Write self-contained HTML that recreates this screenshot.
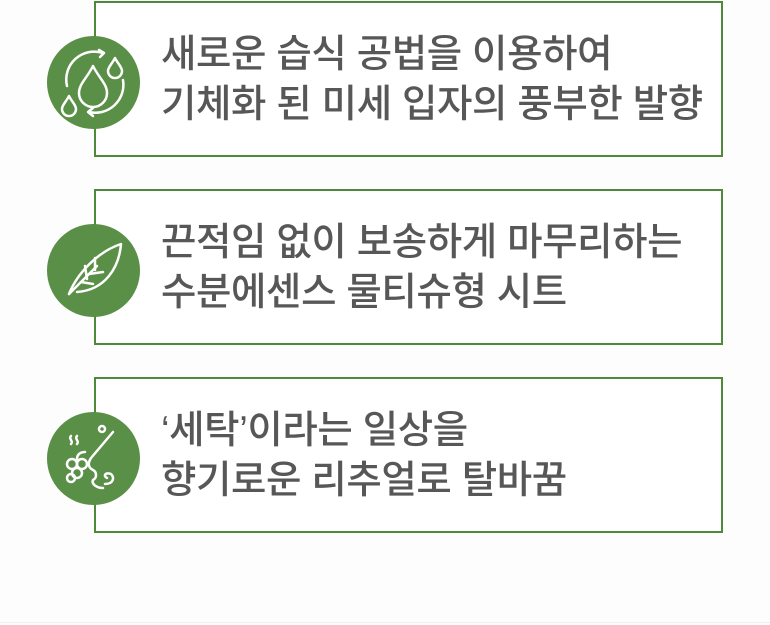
<!DOCTYPE html>
<html><head><meta charset="utf-8"><style>
html,body{margin:0;padding:0;background:#fdfdfd;width:770px;height:625px;overflow:hidden;position:relative}
.box{position:absolute;left:94px;width:625px;height:152px;border:2.5px solid #4f8a3b;background:#fff}
.c{position:absolute;left:47px;width:93px;height:93px;border-radius:50%;background:#5a8f47}
.c svg{position:absolute;left:0;top:0}
.t{position:absolute;left:161px;font-family:"Liberation Sans","Noto Sans CJK KR",sans-serif;font-size:38.5px;line-height:50px;color:#575757;font-weight:500;letter-spacing:-0.4px;white-space:nowrap}
.line{position:absolute;left:0;top:622px;width:770px;height:1px;background:#eef0ee}
</style></head><body>
<div class="box" style="top:1px"></div>
<div class="box" style="top:189px"></div>
<div class="box" style="top:377px"></div>

<div class="c" style="top:36px"><svg width="93" height="93" fill="none" stroke="#fff" stroke-width="2.5" stroke-linecap="round" stroke-linejoin="round">
<path d="M46 30 C40 42 32 48 32 57 A14 14 0 0 0 60 57 C60 48 52 42 46 30Z"/>
<path d="M68 22 C65 28 61 31 61 35 A7 7 0 0 0 75 35 C75 31 71 28 68 22Z"/>
<path d="M22 60 C19 66 15 69 15 73 A7 7 0 0 0 29 73 C29 69 25 66 22 60Z"/>
<path d="M20 50 A28 28 0 0 1 56 17"/><path d="M52 14 L57 17 L53 21"/>
<path d="M76 44 A28 28 0 0 1 42 76"/><path d="M46 72 L41 76 L46 80"/>
</svg></div>
<div class="c" style="top:224px"><svg width="93" height="93" fill="none" stroke="#fff" stroke-width="2.5" stroke-linecap="round" stroke-linejoin="round">
<path d="M22 70 C30 50 50 28 74 20 C72 44 58 66 30 68"/>
<path d="M22 70 L50 42"/><path d="M34 58 L46 60"/><path d="M42 50 L56 48"/><path d="M40 55 L38 42"/><path d="M48 46 L48 34"/>
</svg></div>
<div class="c" style="top:412px"><svg width="93" height="93" fill="none" stroke="#fff" stroke-width="2.5" stroke-linecap="round" stroke-linejoin="round">
<circle cx="55" cy="17" r="3"/>
<path d="M66 20 L44 46 C40 52 42 56 46 58 C50 60 50 66 46 68 C44 72 50 76 56 76"/>
<path d="M58 72 C66 72 68 66 64 62 C58 60 56 64 60 66"/>
<path d="M24 24 C21 27 27 29 24 32 M30 24 C27 27 33 29 30 32"/>
<circle cx="25" cy="52" r="5"/><circle cx="35" cy="52" r="5"/><circle cx="30" cy="61" r="5"/><circle cx="24" cy="66" r="4"/>
<path d="M30 47 C30 42 34 40 38 40"/>
</svg></div>

<div class="t" style="top:30px">새로운 습식 공법을 이용하여<br>기체화 된 미세 입자의 풍부한 발향</div>
<div class="t" style="top:218px">끈적임 없이 보송하게 마무리하는<br>수분에센스 물티슈형 시트</div>
<div class="t" style="top:406px">‘세탁’이라는 일상을<br>향기로운 리추얼로 탈바꿈</div>
<div class="line"></div>
</body></html>
